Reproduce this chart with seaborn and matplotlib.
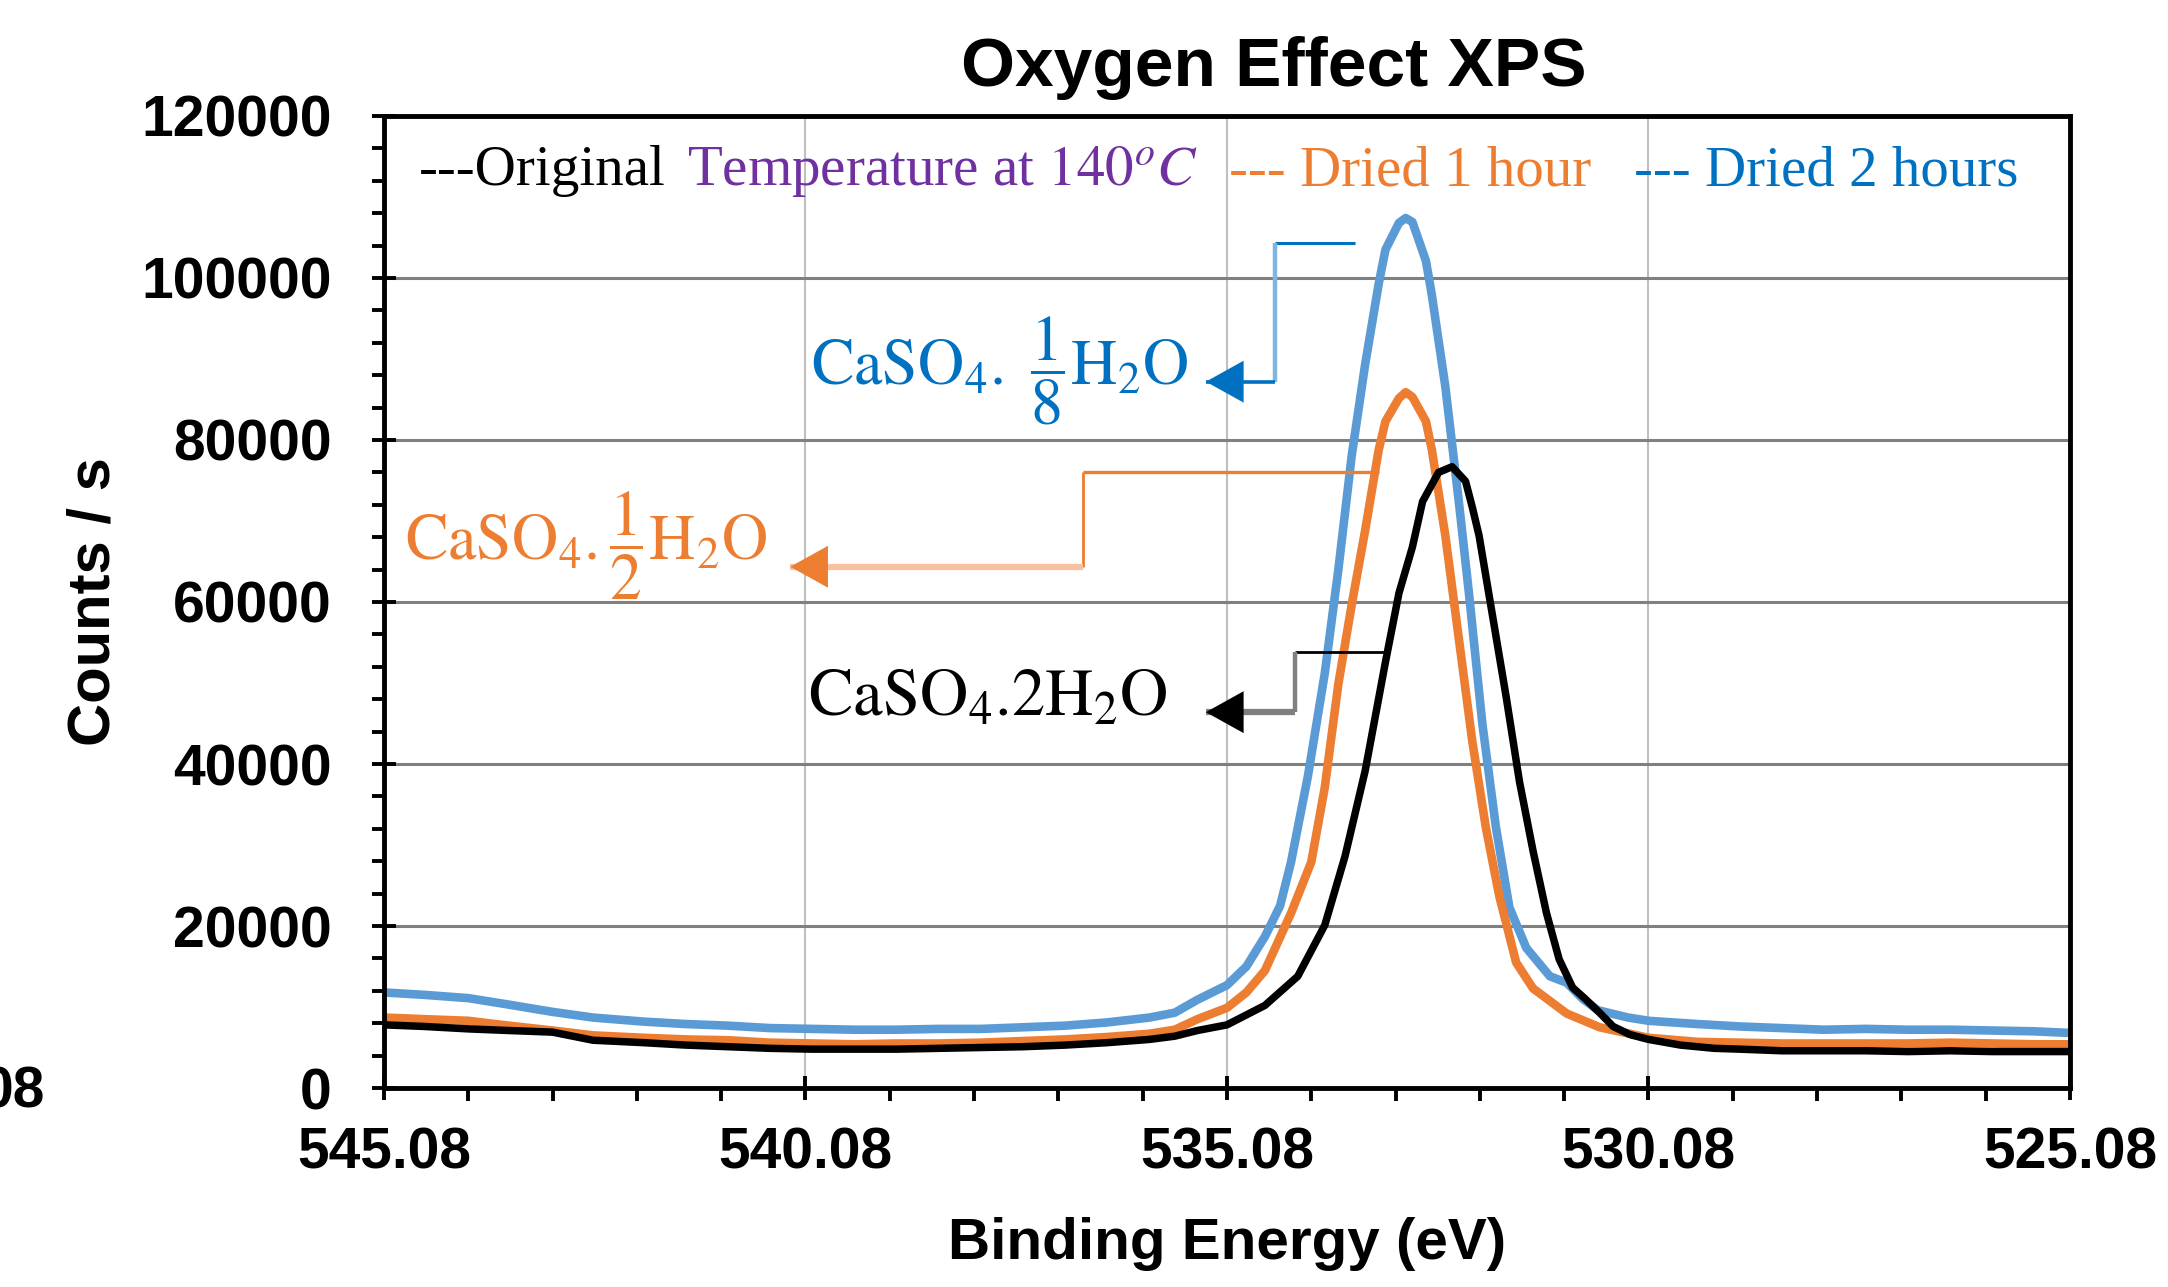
import numpy as np
import pandas as pd
import matplotlib
matplotlib.use('Agg')
import matplotlib.pyplot as plt
import seaborn as sns

# 1. Grafikten okunan veriler (Binding Energy, Counts / s)
be_original = [545.08, 544.6, 544.08, 543.6, 543.08, 542.6, 542.0, 541.5, 541.0, 540.5,
               540.0, 539.5, 539.0, 538.5, 538.0, 537.5, 537.0, 536.5, 536.0, 535.7,
               535.43, 535.08, 534.63, 534.24, 533.92, 533.68, 533.44, 533.20, 533.04, 532.88,
               532.76, 532.65, 532.57, 532.41, 532.25, 532.17, 532.09, 531.93, 531.77, 531.61,
               531.45, 531.29, 531.14, 530.98, 530.83, 530.66, 530.5, 530.3, 530.08, 529.7,
               529.3, 529.0, 528.5, 528.0, 527.5, 527.0, 526.5, 526.0, 525.5, 525.08]
cps_original = [7800, 7600, 7300, 7100, 6900, 5900, 5600, 5300, 5100, 4900,
                4800, 4800, 4800, 4900, 5000, 5100, 5300, 5600, 6000, 6400,
                7100, 7800, 10200, 13800, 20100, 28600, 39200, 52600, 61100, 66800,
                72400, 74500, 76000, 76700, 74900, 71700, 68200, 58300, 48400, 37800,
                29300, 21600, 15900, 12400, 11000, 9300, 7600, 6600, 6000, 5300,
                4900, 4800, 4600, 4600, 4600, 4500, 4600, 4500, 4500, 4500]

be_1h = [545.08, 544.6, 544.08, 543.6, 543.08, 542.6, 542.0, 541.5, 541.0, 540.5,
         540.0, 539.5, 539.0, 538.5, 538.0, 537.5, 537.0, 536.5, 536.0, 535.7,
         535.43, 535.08, 534.85, 534.63, 534.32, 534.08, 533.92, 533.76, 533.60, 533.44,
         533.28, 533.20, 533.04, 532.96, 532.88, 532.72, 532.65, 532.49, 532.33, 532.17,
         532.01, 531.85, 531.65, 531.45, 531.05, 530.66, 530.08, 529.5, 529.0, 528.5,
         528.0, 527.5, 527.0, 526.5, 526.0, 525.5, 525.08]
cps_1h = [8700, 8500, 8300, 7700, 7100, 6500, 6200, 6000, 5900, 5600,
          5500, 5400, 5500, 5500, 5600, 5800, 6000, 6300, 6700, 7200,
          8500, 9900, 11800, 14500, 21600, 27900, 37100, 49800, 59700, 68900,
          78800, 82300, 85150, 85900, 85300, 82300, 78800, 68200, 55500, 42800,
          32200, 23700, 15500, 12300, 9200, 7500, 6200, 5700, 5600, 5500,
          5500, 5500, 5500, 5600, 5500, 5400, 5400]

be_2h = [545.08, 544.6, 544.08, 543.6, 543.08, 542.6, 542.0, 541.5, 541.0, 540.5,
         540.0, 539.5, 539.0, 538.5, 538.0, 537.5, 537.0, 536.5, 536.0, 535.7,
         535.43, 535.08, 534.85, 534.63, 534.45, 534.32, 534.12, 533.92, 533.76, 533.60,
         533.44, 533.28, 533.20, 533.04, 532.96, 532.88, 532.72, 532.65, 532.49, 532.33,
         532.21, 532.05, 531.89, 531.73, 531.53, 531.25, 531.05, 530.86, 530.68, 530.32,
         530.08, 529.5, 529.0, 528.5, 528.0, 527.5, 527.0, 526.5, 526.0, 525.5, 525.08]
cps_2h = [11800, 11500, 11100, 10300, 9400, 8700, 8200, 7900, 7700, 7400,
          7300, 7200, 7200, 7300, 7300, 7500, 7700, 8100, 8700, 9300,
          10900, 12700, 15000, 18700, 22500, 27900, 38500, 51200, 63900, 78100,
          89400, 99300, 103500, 106800, 107400, 106900, 102100, 97900, 86600, 72400,
          61100, 44900, 32200, 22300, 17300, 13800, 13000, 11000, 9600, 8700,
          8300, 7900, 7600, 7400, 7200, 7300, 7200, 7200, 7100, 7000, 6800]

x_major = [545.08, 540.08, 535.08, 530.08, 525.08]
y_major = [0, 20000, 40000, 60000, 80000, 100000, 120000]

df = pd.concat([
    pd.DataFrame({'be': be_original, 'cps': cps_original, 'sample': 'Original'}),
    pd.DataFrame({'be': be_1h, 'cps': cps_1h, 'sample': 'Dried 1 hour'}),
    pd.DataFrame({'be': be_2h, 'cps': cps_2h, 'sample': 'Dried 2 hours'}),
])

# 2. Stil
sns.set_style("ticks")
plt.rcParams['font.family'] = ['Liberation Sans', 'DejaVu Sans']
plt.rcParams['mathtext.fontset'] = 'stix'
plt.rcParams['text.color'] = 'black'
plt.rcParams['axes.labelcolor'] = 'black'
plt.rcParams['xtick.color'] = 'black'
plt.rcParams['ytick.color'] = 'black'

fig, ax = plt.subplots(figsize=(21.68, 12.87), dpi=100)
fig.subplots_adjust(left=0.1771, right=0.9548, bottom=0.1546, top=0.9099)

# 3. Egriler
series = [('Dried 2 hours', '#5B9BD5', 6.2),
          ('Dried 1 hour', '#ED7D31', 6.2),
          ('Original', 'black', 5.4)]
for name, col, lw in series:
    sns.lineplot(data=df[df['sample'] == name], x='be', y='cps', color=col,
                 linewidth=lw, estimator=None, sort=False, ax=ax)
    ax.lines[-1].set_linewidth(lw)
    ax.lines[-1].set_solid_joinstyle('round')

# 4. Eksenler
ax.set_xlim(545.08, 525.08)
ax.set_ylim(0, 120000)
ax.set_xticks(x_major)
ax.set_xticklabels([f"{v:.2f}" for v in x_major])
ax.set_xticks(np.linspace(525.08, 545.08, 21), minor=True)
ax.set_yticks(y_major)
ax.set_yticklabels([str(v) for v in y_major])
ax.set_yticks(np.arange(0, 120001, 4000), minor=True)

ax.yaxis.grid(True, which='major', color='#808080', linewidth=2.2)
ax.xaxis.grid(True, which='major', color='#BFBFBF', linewidth=1.5)
ax.set_axisbelow(True)

for s in ax.spines.values():
    s.set_visible(True)
    s.set_linewidth(3.5)
    s.set_color('black')

ax.tick_params(which='major', direction='inout', length=17, width=2.8, labelsize=41,
               colors='black')
ax.tick_params(which='minor', direction='out', length=9, width=2.8, colors='black')
ax.tick_params(axis='x', which='major', pad=19)
ax.tick_params(axis='y', which='major', pad=29)
for lbl in ax.get_xticklabels() + ax.get_yticklabels():
    lbl.set_fontweight('bold')

ax.set_xlabel("Binding Energy (eV)", fontsize=42, fontweight='bold', va='center')
ax.set_ylabel("Counts / s", fontsize=43, fontweight='bold', va='center')
ax.xaxis.set_label_coords(0.5, -0.1605)
ax.yaxis.set_label_coords(-0.172, 0.5)

fig.text(0.5877, 0.9470, "Oxygen Effect XPS", fontsize=50, fontweight='bold',
         ha='center', va='center', color='black')
fig.text(0.0208, 0.1515, "08", fontsize=41, fontweight='bold', ha='right', va='center')

# 5. Ust satirdaki aciklama metni
serif = ['Liberation Serif', 'DejaVu Serif']
legend_parts = [(0.0205, "---Original", 'black'),
                (0.1797, r"Temperature at $140^{o}C$", '#7030A0'),
                (0.5012, "--- Dried 1 hour", '#ED7D31'),
                (0.7416, "--- Dried 2 hours", '#0070C0')]
for xa, txt, c in legend_parts:
    ax.text(xa, 0.943, txt, transform=ax.transAxes, fontsize=41, family=serif,
            color=c, ha='left', va='center')

# 6. Formul etiketleri ve oklar
def callout(pts, seg_colors, seg_widths, head_color):
    for i in range(len(pts) - 1):
        ax.plot([pts[i][0], pts[i + 1][0]], [pts[i][1], pts[i + 1][1]],
                color=seg_colors[i], linewidth=seg_widths[i], solid_capstyle='butt')
    tip = pts[-1]
    ax.annotate('', xy=tip, xytext=(tip[0] - 0.25, tip[1]),
                arrowprops=dict(arrowstyle='-|>,head_length=0.9,head_width=0.5',
                                color=head_color, lw=0.1, mutation_scale=30,
                                shrinkA=0, shrinkB=0))

callout([(533.56, 104300), (534.51, 104300), (534.51, 87200), (535.33, 87200)],
        ['#0070C0', '#7FB5DF', '#0070C0'], [2.2, 3.2, 2.6], '#0070C0')
callout([(533.28, 76100), (536.79, 76100), (536.79, 64350), (540.26, 64350)],
        ['#ED7D31', '#ED7D31', '#F8C2A0'], [2.4, 2.0, 4.5], '#ED7D31')
callout([(533.15, 53800), (534.27, 53800), (534.27, 46400), (535.33, 46400)],
        ['black', '#808080', '#7F7F7F'], [2.0, 3.2, 4.5], 'black')

ax.text(535.53, 86900, r"$\mathrm{CaSO_4.\ \dfrac{1}{8}H_2O}$", fontsize=46,
        color='#0070C0', ha='right', va='baseline')
ax.text(540.535, 65200, r"$\mathrm{CaSO_4.\dfrac{1}{2}H_2O}$", fontsize=46,
        color='#ED7D31', ha='right', va='baseline')
ax.text(535.78, 46100, r"$\mathrm{CaSO_4.2H_2O}$", fontsize=48,
        color='black', ha='right', va='baseline')

plt.savefig("out.png", dpi=100)
